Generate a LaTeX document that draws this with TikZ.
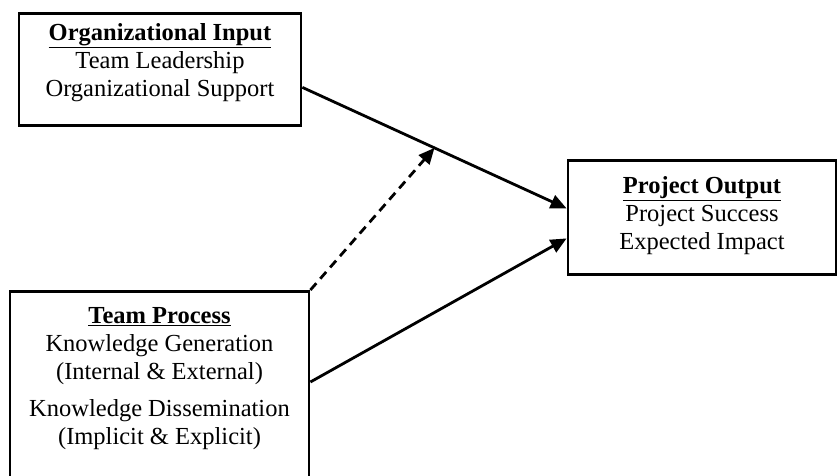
\documentclass[tikz,border=0pt]{standalone}
\usepackage{fontspec}
\setmainfont{Liberation Serif}
\usetikzlibrary{arrows.meta,calc}

\begin{document}
\begin{tikzpicture}[x=1pt,y=-1pt,line width=2.8pt,
    >={Triangle[length=16pt,width=14pt]},
    caja/.style={draw,rectangle,inner sep=0pt,align=center,anchor=north,
      font=\fontsize{24.5}{28}\selectfont}]
  \useasboundingbox (0,0) rectangle (838,475);
  \node[caja,minimum width=282pt,text height=83pt,text depth=29pt] (orgin) at (160,12)
    {\underline{\textbf{Organizational Input}}\\Team Leadership\\Organizational Support};
  \node[caja,minimum width=268pt,text height=89pt,text depth=25pt] (projout) at (702,159)
    {\underline{\textbf{Project Output}}\\Project Success\\Expected Impact};
  \node[caja,minimum width=299pt,text height=153pt,text depth=200pt] (teamproc) at (159.5,290)
    {\underline{\textbf{Team Process}}\\Knowledge Generation\\(Internal \& External)\\[9pt]
     Knowledge Dissemination\\(Implicit \& Explicit)};
  \draw[->] ($(orgin.east)+(0,18)$) -- coordinate[pos=.5] (cruce) ($(projout.west)+(0,-9)$);
  \draw[->] ($(teamproc.north east)+(0,92)$) -- ($(projout.west)+(0,21)$);
  \draw[->,dash pattern=on 9pt off 6pt] (teamproc.north east) -- (cruce);
\end{tikzpicture}
\end{document}
